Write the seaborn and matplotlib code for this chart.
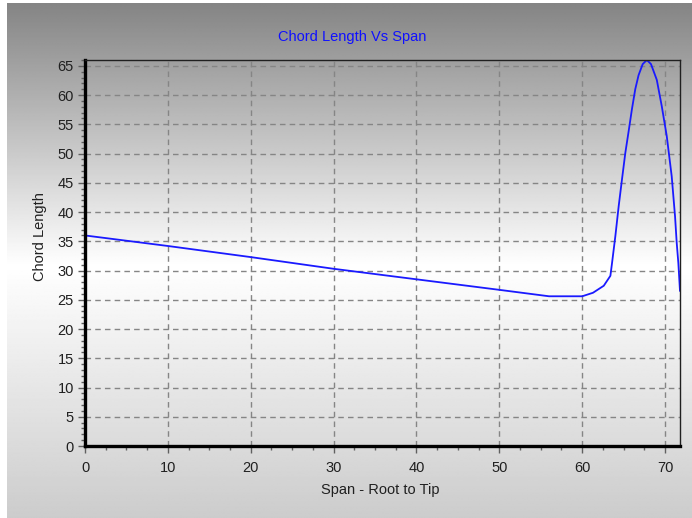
import numpy as np
import matplotlib
matplotlib.use("Agg")
import matplotlib.pyplot as plt
import seaborn as sns
import pandas as pd
from matplotlib.ticker import MultipleLocator

# Data
span = [0, 10, 20, 30, 35, 40, 50, 56, 60, 61.3, 62.6, 63.4, 63.6, 64.0, 64.4,
        64.8, 65.2, 65.6, 66.0, 66.4, 66.8, 67.3, 67.8, 68.3, 69.0, 69.6, 70.2,
        70.8, 71.2, 71.4, 71.6, 71.8]
chord = [36.0, 34.2, 32.3, 30.3, 29.4, 28.5, 26.7, 25.6, 25.6, 26.2, 27.4, 29.1,
         31.3, 35.9, 41.0, 45.6, 50.1, 53.8, 57.6, 61.0, 63.4, 65.3, 66.0, 65.3,
         62.6, 58.1, 53.0, 46.1, 39.3, 34.8, 31.3, 26.5]
x_ticks = [0, 10, 20, 30, 40, 50, 60, 70]
y_ticks = [0, 5, 10, 15, 20, 25, 30, 35, 40, 45, 50, 55, 60, 65]

df = pd.DataFrame({"span": span, "chord": chord})

sns.set_style("white")
plt.rcParams['font.family'] = ['Liberation Sans', 'DejaVu Sans']

W, H = 692, 518
fig = plt.figure(figsize=(W / 100, H / 100), dpi=100)
fig.patch.set_facecolor("white")

# Background gradient (gray -> white -> light gray)
bg = fig.add_axes([7 / W, 0, 1 - 7 / W, 1 - 3 / H], zorder=-10)
yy = np.linspace(0, 1, 400)  # 0 = top, 1 = bottom
top_c, mid_c, bot_c = 0.52, 1.0, 0.80
mid_pos = 0.51
vals = np.where(yy < mid_pos,
                top_c + (mid_c - top_c) * (yy / mid_pos),
                mid_c + (bot_c - mid_c) * ((yy - mid_pos) / (1 - mid_pos)))
img = np.repeat(vals[:, None], 2, axis=1)
bg.imshow(img, cmap="gray", vmin=0, vmax=1, aspect="auto",
          extent=[0, 1, 0, 1], interpolation="bilinear")
bg.axis("off")
bg.set_xlim(0, 1)
bg.set_ylim(0, 1)

ax = fig.add_axes([85 / W, 1 - 446 / H, (680 - 85) / W, (446 - 60) / H])
ax.set_facecolor("none")

sns.lineplot(data=df, x="span", y="chord", ax=ax, color="#1a1aff",
             linewidth=1.3, estimator=None, sort=False)

ax.set_xlim(0, 71.8)
ax.set_ylim(0, 66)
ax.set_xticks(x_ticks)
ax.set_yticks(y_ticks)
ax.xaxis.set_minor_locator(MultipleLocator(2.5))
ax.yaxis.set_minor_locator(MultipleLocator(1))

ax.grid(True, which="major", color="#858585", linestyle=(0, (4, 3)), linewidth=1)
ax.set_axisbelow(True)

for side in ["left", "bottom"]:
    ax.spines[side].set_linewidth(2.4)
    ax.spines[side].set_color("black")
for side in ["top", "right"]:
    ax.spines[side].set_linewidth(1.0)
    ax.spines[side].set_color("#202020")

ax.tick_params(axis="both", which="major", direction="out", length=5,
               width=1, color="#606060", labelsize=10.5, labelcolor="#202020",
               bottom=True, left=True, pad=3)
ax.tick_params(axis="x", which="major", pad=6)
ax.tick_params(axis="both", which="minor", direction="out", length=3,
               width=1, color="#606060", bottom=True, left=True)

ax.set_xlabel("")
ax.set_ylabel("")
fig.text(380 / W, 1 - 490 / H, "Span - Root to Tip", ha="center", va="center",
         fontsize=10.5, color="#202020")
fig.text(40 / W, 1 - 237 / H, "Chord Length", ha="center", va="center",
         rotation=90, fontsize=10.5, color="#202020")
fig.text(352 / W, 1 - 37 / H, "Chord Length Vs Span", ha="center", va="center",
         fontsize=10.5, color="#1010ff")

fig.savefig("out.png", dpi=100, facecolor=fig.get_facecolor())
